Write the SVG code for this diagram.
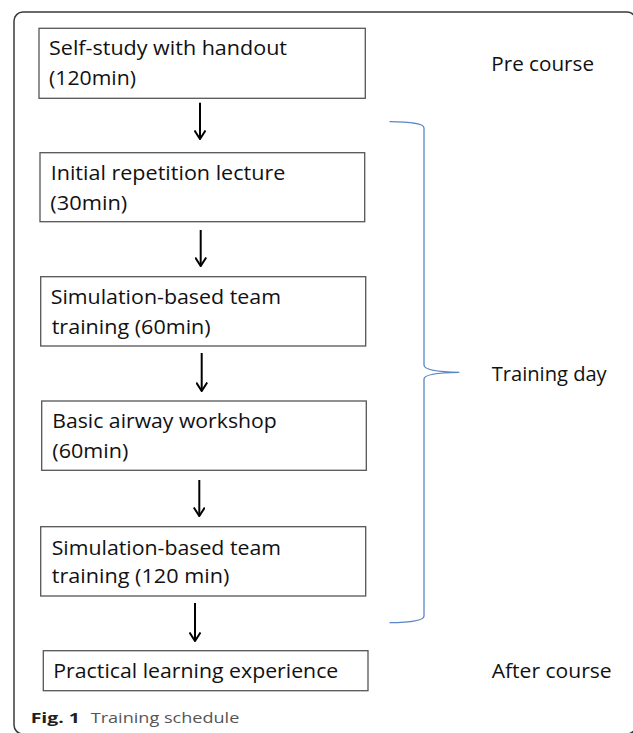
<svg xmlns="http://www.w3.org/2000/svg" width="633" height="733" viewBox="0 0 633 733">
<style>
.frame{fill:none;stroke:#3a3a3a;stroke-width:1.5}
.box{fill:#fff;stroke:#555;stroke-width:1.3}
.t{font-family:"Open Sans","Liberation Sans",sans-serif;font-size:20px;fill:#111}
.arr{stroke:#000;stroke-width:2;fill:none}
.brace{fill:none;stroke:#5a86c8;stroke-width:1.3}
.cap{font-family:"Open Sans","Liberation Sans",sans-serif;font-size:15px}
</style>
<defs>
<marker id="ah" viewBox="0 0 10 12" refX="9" refY="6" markerWidth="10" markerHeight="12" markerUnits="userSpaceOnUse" orient="auto">
<path d="M0.5,0.5 L9,6 L0.5,11.5" fill="none" stroke="#000" stroke-width="2"/>
</marker>
</defs>
<rect class="frame" x="14" y="12" width="622" height="722" rx="9"/>
<g id="n1"><rect class="box" x="39" y="28.3" width="326.3" height="70"/>
<text class="t" x="49" y="55" textLength="238" lengthAdjust="spacingAndGlyphs">Self-study with handout</text>
<text class="t" x="49" y="85" textLength="87" lengthAdjust="spacingAndGlyphs">(120min)</text></g>
<g id="n2"><rect class="box" x="40" y="152.7" width="324.7" height="69"/>
<text class="t" x="50.7" y="180" textLength="234.6" lengthAdjust="spacingAndGlyphs">Initial repetition lecture</text>
<text class="t" x="50.3" y="210" textLength="77" lengthAdjust="spacingAndGlyphs">(30min)</text></g>
<g id="n3"><rect class="box" x="40.7" y="276.7" width="325" height="69.3"/>
<text class="t" x="50.7" y="304" textLength="230.3" lengthAdjust="spacingAndGlyphs">Simulation-based team</text>
<text class="t" x="51.7" y="334" textLength="159" lengthAdjust="spacingAndGlyphs">training (60min)</text></g>
<g id="n4"><rect class="box" x="41.7" y="401" width="324.6" height="69.3"/>
<text class="t" x="52.3" y="428.3" textLength="224.4" lengthAdjust="spacingAndGlyphs">Basic airway workshop</text>
<text class="t" x="52.3" y="457.7" textLength="76" lengthAdjust="spacingAndGlyphs">(60min)</text></g>
<g id="n5"><rect class="box" x="40.7" y="526.7" width="325" height="69.3"/>
<text class="t" x="51.7" y="555" textLength="229.3" lengthAdjust="spacingAndGlyphs">Simulation-based team</text>
<text class="t" x="51.7" y="583.3" textLength="177.6" lengthAdjust="spacingAndGlyphs">training (120 min)</text></g>
<g id="n6"><rect class="box" x="43.3" y="650.7" width="324.7" height="40"/>
<text class="t" x="53.3" y="678" textLength="285" lengthAdjust="spacingAndGlyphs">Practical learning experience</text></g>
<g id="labels">
<text class="t" x="491.3" y="71" textLength="102.7" lengthAdjust="spacingAndGlyphs">Pre course</text>
<text class="t" x="491.7" y="380.7" textLength="115" lengthAdjust="spacingAndGlyphs">Training day</text>
<text class="t" x="491.7" y="678.3" textLength="120" lengthAdjust="spacingAndGlyphs">After course</text>
</g>
<g id="connectors">
<line class="arr" x1="200" y1="102.7" x2="200" y2="139" marker-end="url(#ah)"/>
<line class="arr" x1="200.7" y1="230" x2="200.7" y2="266" marker-end="url(#ah)"/>
<line class="arr" x1="201.7" y1="353" x2="201.7" y2="391" marker-end="url(#ah)"/>
<line class="arr" x1="199.3" y1="480" x2="199.3" y2="516" marker-end="url(#ah)"/>
<line class="arr" x1="195" y1="603" x2="195" y2="641" marker-end="url(#ah)"/>
</g>
<g id="brace">
<path class="brace" d="M389.5,121.7 C410,122 424,123 424,128 L424,365 C424,370 440,372 459.3,372.3 C440,372.6 424,374 424,379 L424,616 C424,621 410,622.5 389.5,622.7"/>
</g>
<g id="caption">
<text class="cap" x="30.7" y="723" font-weight="bold" fill="#231f20" textLength="49.3" lengthAdjust="spacingAndGlyphs">Fig. 1</text>
<text class="cap" x="90.7" y="723" fill="#555" textLength="148.6" lengthAdjust="spacingAndGlyphs">Training schedule</text>
</g>
</svg>
